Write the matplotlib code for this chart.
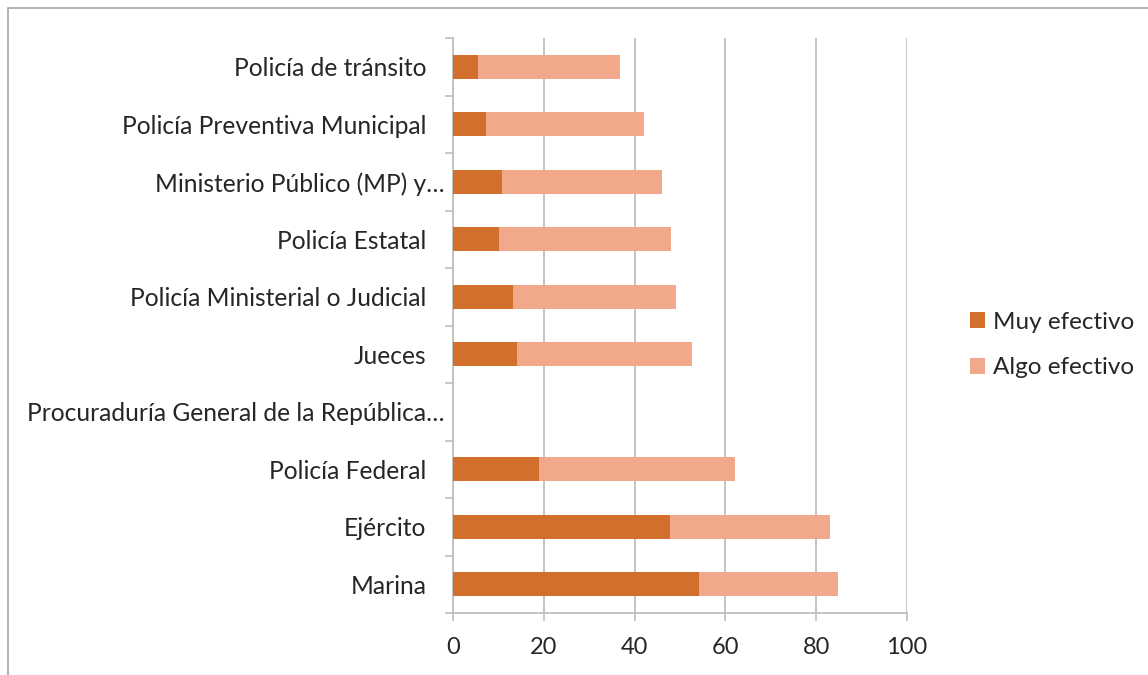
import numpy as np
import matplotlib.pyplot as plt
from matplotlib.patches import Rectangle
from matplotlib.transforms import ScaledTranslation

plt.rcParams['font.family'] = ['Lato', 'DejaVu Sans']

# categories from bottom to top
categorias = ['Marina', 'Ejército', 'Policía Federal',
              'Procuraduría General de la República…', 'Jueces',
              'Policía Ministerial o Judicial', 'Policía Estatal',
              'Ministerio Público (MP) y…', 'Policía Preventiva Municipal',
              'Policía de tránsito']
muy_efectivo = [54.1, 47.7, 18.9, 0, 14.1, 13.3, 10.1, 10.7, 7.2, 5.5]
algo_efectivo = [30.8, 35.3, 43.3, 0, 38.6, 35.8, 38.0, 35.3, 34.9, 31.3]
xticks = [0, 20, 40, 60, 80, 100]

c_muy = '#D36F2C' ; c_algo = '#F1A88B' ; gris = '#BFBFBF' ; texto = '#262626'

fig = plt.figure(figsize=(11.48, 6.75), dpi=100)
ax = fig.add_axes([453/1148, 62/675, 454/1148, 575/675])

y = np.arange(len(categorias))
ax.barh(y, muy_efectivo, height=0.42, color=c_muy, label='Muy efectivo', zorder=3)
ax.barh(y, algo_efectivo, left=muy_efectivo, height=0.42, color=c_algo,
        label='Algo efectivo', zorder=3)

ax.set_xlim(0, 100) ; ax.set_ylim(-0.5, len(categorias) - 0.5)
ax.set_xticks(xticks)
ax.set_yticks(y)
ax.set_yticklabels(categorias)
ax.set_yticks(np.arange(-0.5, len(categorias)), minor=True)
ax.tick_params(axis='y', which='major', length=0, pad=19, labelsize=17.7, labelcolor=texto)
ax.tick_params(axis='y', which='minor', length=6, width=1.2, color=gris, direction='out')
ax.tick_params(axis='x', length=6, width=1.2, color=gris, pad=11, labelsize=17, labelcolor=texto)
ax.grid(axis='x', color=gris, linewidth=1.3, zorder=0)
for s in ['top', 'right']:
    ax.spines[s].set_visible(False)
for s in ['left', 'bottom']:
    ax.spines[s].set_color(gris) ; ax.spines[s].set_linewidth(1.3)

# truncated labels overhang to the right, as in the original
for lbl in ax.get_yticklabels():
    if lbl.get_text().endswith('…'):
        lbl.set_transform(lbl.get_transform() + ScaledTranslation(18/100, 0, fig.dpi_scale_trans))

leg = ax.legend(loc='center left', bbox_to_anchor=(1.139, 0.466), frameon=False,
                fontsize=17.5, handlelength=0.62, handleheight=0.62,
                handletextpad=0.33, labelspacing=1.0, borderpad=0, borderaxespad=0)
for t in leg.get_texts():
    t.set_color(texto)

# outer frame of the chart
fig.patches.append(Rectangle((8/1148, -0.05), 1.1, 1 - 8/675 + 0.05, transform=fig.transFigure,
                             fill=False, edgecolor='#A6A6A6', linewidth=1.2))

plt.savefig('out.png', dpi=100)
